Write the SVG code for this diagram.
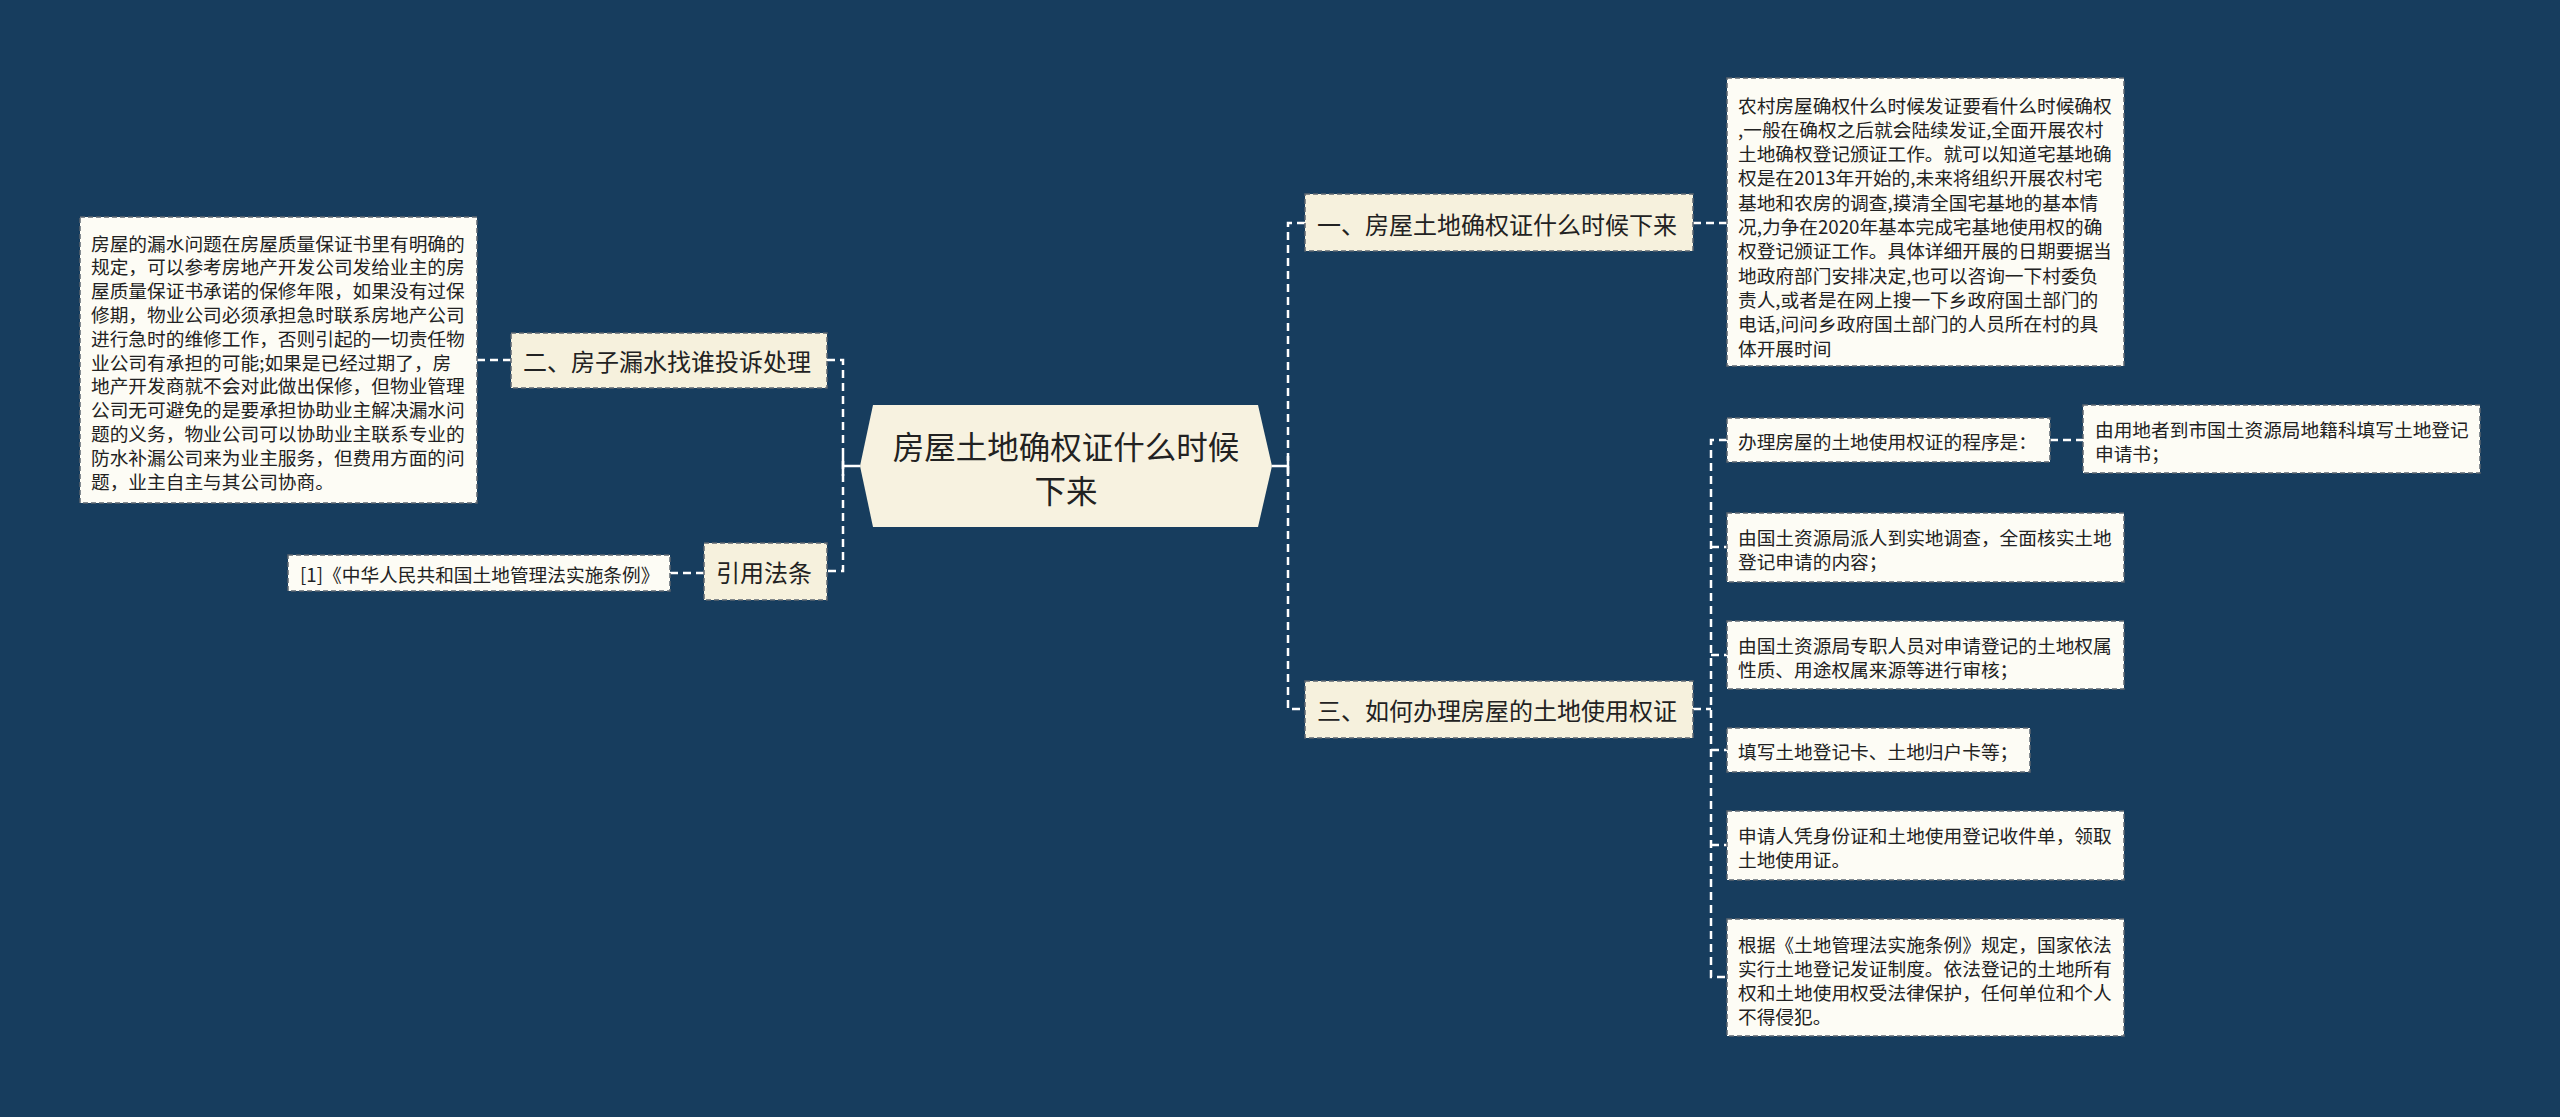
<svg xmlns="http://www.w3.org/2000/svg" width="2560" height="1117" viewBox="0 0 2560 1117">
<defs>
<style>
.bg{fill:#173d5e}
.leaf{fill:#fdfcf5;stroke:#5c6670;stroke-width:1.5;stroke-dasharray:5 3}
.branch{fill:#f6f1dd;stroke:#5c6670;stroke-width:1.5;stroke-dasharray:5 3}
.hex{fill:#f7f2e0}
.t{font-family:"Noto Sans CJK SC","Noto Sans",sans-serif;fill:#222;dominant-baseline:central}
.s{font-size:18.7px}
.m{font-size:24px}
.c{font-size:31.5px;text-anchor:middle}
.con{fill:none;stroke:#ffffff;stroke-width:2.5;stroke-dasharray:8 5}
.sol{fill:none;stroke:#ffffff;stroke-width:2.5}
</style>
</defs>
<rect class="bg" x="0" y="0" width="2560" height="1117"/>
<g id="connectors">
<path class="con" d="M827,360 H843 V571 H827"/>
<path class="sol" d="M860,466 H843 M843,456 V476"/>
<path class="sol" d="M1272,466 H1288 M1288,456 V476"/>
<path class="con" d="M477,360 H511"/>
<path class="con" d="M670,573 H704"/>
<path class="con" d="M1305,223 H1288 V709 H1305"/>
<path class="con" d="M1693,223 H1727"/>
<path class="con" d="M1693,709 H1711"/>
<path class="con" d="M1727,440 H1711 V977 H1727"/>
<path class="con" d="M1711,547 H1727 M1711,655 H1727 M1711,750 H1727 M1711,845 H1727"/>
<path class="con" d="M2050,440 H2083"/>
</g>
<g id="center">
<polygon class="hex" points="873,405 1258,405 1272,466 1258,527 873,527 860,466"/>
<text class="t c" x="1066" y="445">房屋土地确权证什么时候</text>
<text class="t c" x="1066" y="489">下来</text>
</g>
<g id="n-leak">
<rect class="branch" x="511" y="333" width="316" height="55"/>
<text class="t m" x="523" y="360">二、房子漏水找谁投诉处理</text>
</g>
<g id="n-leak-text">
<rect class="leaf" x="80" y="217" width="397" height="286"/>
<text class="t s" x="91" y="242">房屋的漏水问题在房屋质量保证书里有明确的</text>
<text class="t s" x="91" y="265.8">规定，可以参考房地产开发公司发给业主的房</text>
<text class="t s" x="91" y="289.6">屋质量保证书承诺的保修年限，如果没有过保</text>
<text class="t s" x="91" y="313.4">修期，物业公司必须承担急时联系房地产公司</text>
<text class="t s" x="91" y="337.2">进行急时的维修工作，否则引起的一切责任物</text>
<text class="t s" x="91" y="361">业公司有承担的可能;如果是已经过期了，房</text>
<text class="t s" x="91" y="384.8">地产开发商就不会对此做出保修，但物业管理</text>
<text class="t s" x="91" y="408.6">公司无可避免的是要承担协助业主解决漏水问</text>
<text class="t s" x="91" y="432.4">题的义务，物业公司可以协助业主联系专业的</text>
<text class="t s" x="91" y="456.2">防水补漏公司来为业主服务，但费用方面的问</text>
<text class="t s" x="91" y="480">题，业主自主与其公司协商。</text>
</g>
<g id="n-law">
<rect class="branch" x="704" y="543" width="123" height="57"/>
<text class="t m" x="716" y="571">引用法条</text>
</g>
<g id="n-law-ref">
<rect class="leaf" x="288" y="555" width="382" height="36"/>
<text class="t s" x="300" y="573">[1]《中华人民共和国土地管理法实施条例》</text>
</g>
<g id="n-when">
<rect class="branch" x="1305" y="194" width="388" height="57"/>
<text class="t m" x="1317" y="223">一、房屋土地确权证什么时候下来</text>
</g>
<g id="n-when-text">
<rect class="leaf" x="1727" y="78" width="397" height="288"/>
<text class="t s" x="1738" y="104">农村房屋确权什么时候发证要看什么时候确权</text>
<text class="t s" x="1738" y="128.3">,一般在确权之后就会陆续发证,全面开展农村</text>
<text class="t s" x="1738" y="152.6">土地确权登记颁证工作。就可以知道宅基地确</text>
<text class="t s" x="1738" y="176.9">权是在2013年开始的,未来将组织开展农村宅</text>
<text class="t s" x="1738" y="201.2">基地和农房的调查,摸清全国宅基地的基本情</text>
<text class="t s" x="1738" y="225.5">况,力争在2020年基本完成宅基地使用权的确</text>
<text class="t s" x="1738" y="249.8">权登记颁证工作。具体详细开展的日期要据当</text>
<text class="t s" x="1738" y="274.1">地政府部门安排决定,也可以咨询一下村委负</text>
<text class="t s" x="1738" y="298.4">责人,或者是在网上搜一下乡政府国土部门的</text>
<text class="t s" x="1738" y="322.7">电话,问问乡政府国土部门的人员所在村的具</text>
<text class="t s" x="1738" y="347">体开展时间</text>
</g>
<g id="n-how">
<rect class="branch" x="1305" y="681" width="388" height="57"/>
<text class="t m" x="1317" y="709">三、如何办理房屋的土地使用权证</text>
</g>
<g id="n-how-1">
<rect class="leaf" x="1727" y="418" width="323" height="44"/>
<text class="t s" x="1738" y="440">办理房屋的土地使用权证的程序是：</text>
</g>
<g id="n-how-1a">
<rect class="leaf" x="2083" y="405" width="397" height="68"/>
<text class="t s" x="2095" y="428">由用地者到市国土资源局地籍科填写土地登记</text>
<text class="t s" x="2095" y="452">申请书；</text>
</g>
<g id="n-how-2">
<rect class="leaf" x="1727" y="513" width="397" height="69"/>
<text class="t s" x="1738" y="536">由国土资源局派人到实地调查，全面核实土地</text>
<text class="t s" x="1738" y="560">登记申请的内容；</text>
</g>
<g id="n-how-3">
<rect class="leaf" x="1727" y="621" width="397" height="68"/>
<text class="t s" x="1738" y="644">由国土资源局专职人员对申请登记的土地权属</text>
<text class="t s" x="1738" y="668">性质、用途权属来源等进行审核；</text>
</g>
<g id="n-how-4">
<rect class="leaf" x="1727" y="728" width="303" height="44"/>
<text class="t s" x="1738" y="750">填写土地登记卡、土地归户卡等；</text>
</g>
<g id="n-how-5">
<rect class="leaf" x="1727" y="811" width="397" height="69"/>
<text class="t s" x="1738" y="834">申请人凭身份证和土地使用登记收件单，领取</text>
<text class="t s" x="1738" y="858">土地使用证。</text>
</g>
<g id="n-how-6">
<rect class="leaf" x="1727" y="919" width="397" height="117"/>
<text class="t s" x="1738" y="943">根据《土地管理法实施条例》规定，国家依法</text>
<text class="t s" x="1738" y="967">实行土地登记发证制度。依法登记的土地所有</text>
<text class="t s" x="1738" y="991">权和土地使用权受法律保护，任何单位和个人</text>
<text class="t s" x="1738" y="1015">不得侵犯。</text>
</g>
</svg>
